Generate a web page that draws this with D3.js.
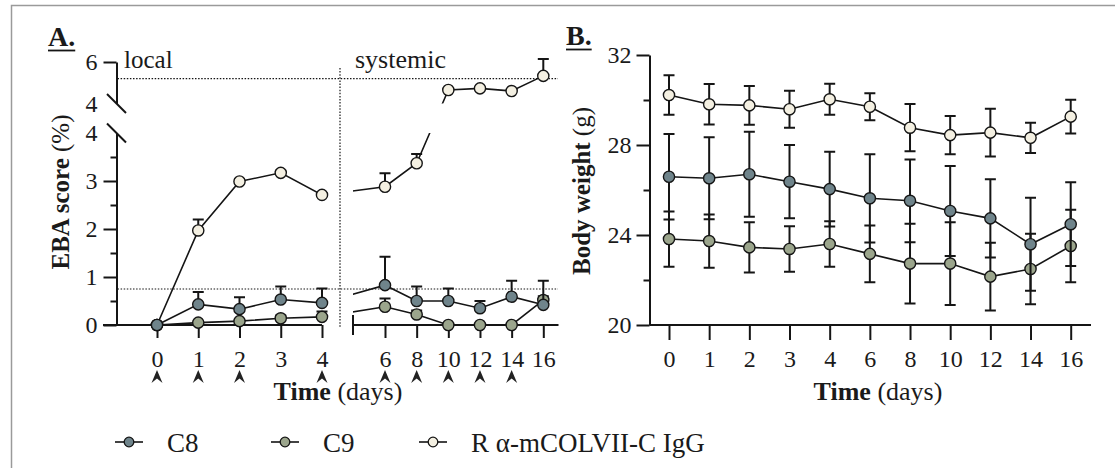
<!DOCTYPE html>
<html>
<head>
<meta charset="utf-8">
<script src="https://cdn.jsdelivr.net/npm/d3@7"></script>
<style>
body { margin: 0; background: #fff; }
svg text { font-family: "Liberation Serif", "Times New Roman", serif; fill: #1a1a1a; }
</style>
</head>
<body>
<div id="chart"></div>
<script>
// series
var seriesNames = ["C8", "C9", "R α-mCOLVII-C IgG"];
var seriesFill = ["#6f848b", "#9ba58c", "#f4f0e2"];

// Panel A: EBA score (%), mean + upper error bar
var ebaDays = [0, 1, 2, 3, 4, 6, 8, 10, 12, 14, 16];
var localDays = [0, 1, 2, 3, 4];
var systemicDays = [6, 8, 10, 12, 14, 16];
var injectionDays = [0, 1, 2, 4, 6, 8, 10, 12, 14];
var ebaC8 = [0, 0.43, 0.33, 0.53, 0.46, 0.83, 0.50, 0.50, 0.35, 0.59, 0.42];
var ebaC8Err = [0, 0.26, 0.25, 0.27, 0.30, 0.59, 0.30, 0.26, 0.15, 0.33, 0.50];
var ebaC9 = [0, 0.05, 0.08, 0.14, 0.17, 0.38, 0.22, 0, 0, 0, 0.52];
var ebaC9Err = [0, 0.03, 0.04, 0.06, 0.11, 0.17, 0.08, 0, 0, 0, 0.08];
var ebaR = [0, 1.97, 2.99, 3.17, 2.71, 2.88, 3.37, 4.65, 4.73, 4.60, 5.33];
var ebaRErr = [0, 0.23, 0.05, 0.05, 0.04, 0.28, 0.19, 0.05, 0.05, 0.05, 0.82];
var ebaThresholds = [0.75, 5.2];

// Panel B: body weight (g), mean +/- SD
var weightDays = ["0", "1", "2", "3", "4", "6", "8", "10", "12", "14", "16"];
var weightC8 = [26.59, 26.52, 26.70, 26.37, 26.04, 25.63, 25.52, 25.07, 24.74, 23.59, 24.48];
var weightC8Sd = [1.90, 1.82, 1.89, 1.63, 1.66, 1.96, 1.84, 2.00, 1.74, 2.07, 1.86];
var weightC9 = [23.82, 23.73, 23.45, 23.38, 23.60, 23.16, 22.73, 22.73, 22.15, 22.49, 23.51];
var weightC9Sd = [1.23, 1.18, 1.12, 1.01, 1.01, 1.26, 1.77, 1.84, 1.51, 1.57, 1.61];
var weightR = [30.22, 29.81, 29.76, 29.59, 30.03, 29.70, 28.77, 28.44, 28.55, 28.32, 29.26];
var weightRSd = [0.88, 0.90, 0.86, 0.82, 0.69, 0.60, 1.05, 0.85, 1.06, 0.67, 0.75];

var ink = "#151515";
var serif = "'Liberation Serif', 'Times New Roman', serif";

var svg = d3.select("#chart").append("svg")
	.attr("width", 1115)
	.attr("height", 468)
	.style("font-family", serif);

// frame (top and left edges only)
svg.append("path")
	.attr("d", "M11.5,468V5.5H1115")
	.attr("fill", "none")
	.attr("stroke", "#9a9a9a")
	.attr("stroke-width", 1.5);

function styleAxis(g, fontSize) {
	g.attr("font-family", serif);
	g.selectAll("line").attr("stroke", ink).attr("stroke-width", 2);
	g.selectAll("path.domain").attr("stroke", ink).attr("stroke-width", 2);
	g.selectAll("text")
		.style("font-family", serif)
		.style("font-size", fontSize + "px")
		.attr("fill", ink);
}

function panelLabel(txt, x, y) {
	var t = svg.append("text")
		.attr("x", x).attr("y", y)
		.style("font-size", "28px")
		.style("font-weight", "bold")
		.text(txt);
	var w = t.node().getComputedTextLength();
	svg.append("line")
		.attr("x1", x).attr("x2", x + w)
		.attr("y1", y + 4.5).attr("y2", y + 4.5)
		.attr("stroke", ink).attr("stroke-width", 1.8);
}

/********* PANEL A: EBA score ************/
var xLocal = d3.scaleLinear().domain([0, 4]).range([157, 322]);
var xSys = d3.scaleLinear().domain([6, 16]).range([385, 543.3]);
var yLo = d3.scaleLinear().domain([0, 4]).range([325, 133]);
var yHi = d3.scaleLinear().domain([4, 6]).range([103.5, 62]);
var axA = 116.5;

function xA(d) { return d <= 4 ? xLocal(d) : xSys(d); }
function yA(v) { return v <= 4 ? yLo(v) : yHi(v); }

panelLabel("A.", 48, 46);

// dotted reference lines
var gA = svg.append("g");
gA.append("line")
	.attr("x1", 340).attr("x2", 340).attr("y1", 68).attr("y2", 328)
	.attr("stroke", ink).attr("stroke-width", 1.2).attr("stroke-dasharray", "1.5,1.6");
ebaThresholds.forEach(function(v) {
	gA.append("line")
		.attr("x1", axA + 1).attr("x2", 558).attr("y1", yA(v)).attr("y2", yA(v))
		.attr("stroke", ink).attr("stroke-width", 1.2).attr("stroke-dasharray", "1.5,1.6");
});

gA.append("text").attr("x", 124).attr("y", 68).style("font-size", "25px").text("local");
gA.append("text").attr("x", 355).attr("y", 68).style("font-size", "26px").text("systemic");

// y axis, lower part 0-4
var yAxLo = gA.append("g").attr("transform", "translate(" + axA + ",0)")
	.call(d3.axisLeft(yLo).tickValues([0, 1, 2, 3, 4]).tickSize(13).tickSizeOuter(0).tickPadding(6).tickFormat(d3.format("d")));
yAxLo.selectAll(".tick").filter(function(d) { return d === 4; }).select("line").remove();
styleAxis(yAxLo, 24);
var yAxLoMinor = gA.append("g").attr("transform", "translate(" + axA + ",0)")
	.call(d3.axisLeft(yLo).tickValues([0.5, 1.5, 2.5, 3.5]).tickSize(6).tickFormat(""));
yAxLoMinor.select(".domain").remove();
styleAxis(yAxLoMinor, 24);

// y axis, upper part 4-6
var yAxHi = gA.append("g").attr("transform", "translate(" + axA + ",0)")
	.call(d3.axisLeft(yHi).tickValues([4, 6]).tickSize(13).tickSizeOuter(0).tickPadding(6).tickFormat(d3.format("d")));
yAxHi.selectAll(".tick").filter(function(d) { return d === 4; }).select("line").remove();
styleAxis(yAxHi, 24);

// break marks
[yHi(4), yLo(4)].forEach(function(y) {
	gA.append("line")
		.attr("x1", axA - 9.5).attr("y1", y - 9.5)
		.attr("x2", axA + 9.5).attr("y2", y + 9.5)
		.attr("stroke", ink).attr("stroke-width", 2);
});

// x axes (local / systemic)
var xAxLocal = gA.append("g").attr("transform", "translate(0,325)")
	.call(d3.axisBottom(xLocal).tickValues(localDays).tickSize(13).tickSizeOuter(0).tickFormat(d3.format("d")));
xAxLocal.select(".domain").remove();
styleAxis(xAxLocal, 24);
xAxLocal.selectAll("text").attr("y", 42).attr("dy", 0);
gA.append("line").attr("x1", 103).attr("x2", xLocal(4)).attr("y1", 325).attr("y2", 325)
	.attr("stroke", ink).attr("stroke-width", 2);

var xAxSys = gA.append("g").attr("transform", "translate(0,325)")
	.call(d3.axisBottom(xSys).tickValues(systemicDays).tickSize(13).tickSizeOuter(0).tickFormat(d3.format("d")));
xAxSys.select(".domain").remove();
styleAxis(xAxSys, 24);
xAxSys.selectAll("text").attr("y", 42).attr("dy", 0);
gA.append("path")
	.attr("d", "M353,315V335M353,325H558.5")
	.attr("fill", "none").attr("stroke", ink).attr("stroke-width", 2);

// injection arrowheads
gA.selectAll("path.inj")
	.data(injectionDays)
	.enter()
	.append("path")
	.attr("class", "inj")
	.attr("d", function(d) {
		var x = xA(d);
		return "M" + x + ",370L" + (x + 5.5) + ",383L" + x + ",378.5L" + (x - 5.5) + ",383Z";
	})
	.attr("fill", "#222");

// axis titles
var tA = gA.append("text")
	.attr("transform", "translate(69,192) rotate(-90)")
	.attr("text-anchor", "middle")
	.style("font-size", "25px");
tA.append("tspan").style("font-weight", "bold").text("EBA score");
tA.append("tspan").text(" (%)");

var tAx = gA.append("text")
	.attr("x", 338).attr("y", 400)
	.attr("text-anchor", "middle")
	.style("font-size", "26px");
tAx.append("tspan").style("font-weight", "bold").text("Time");
tAx.append("tspan").text(" (days)");

// clip for lines: hide the gaps of both broken axes
var defs = svg.append("defs");
var clipA = defs.append("clipPath").attr("id", "clipA");
[[100, 322], [353, 570]].forEach(function(xr) {
	[[20, yHi(4)], [yLo(4), 340]].forEach(function(yr) {
		clipA.append("rect")
			.attr("x", xr[0]).attr("y", yr[0])
			.attr("width", xr[1] - xr[0]).attr("height", yr[1] - yr[0]);
	});
});

var ebaSeries = [
	{ v: ebaR, e: ebaRErr, fill: seriesFill[2] },
	{ v: ebaC9, e: ebaC9Err, fill: seriesFill[1] },
	{ v: ebaC8, e: ebaC8Err, fill: seriesFill[0] }
];

var lineA = d3.line()
	.x(function(d) { return xA(d.day); })
	.y(function(d) { return yA(d.v); });

ebaSeries.forEach(function(s) {
	var pts = ebaDays.map(function(day, i) { return { day: day, v: s.v[i], e: s.e[i] }; });
	var g = gA.append("g");
	g.append("path")
		.datum(pts)
		.attr("d", lineA)
		.attr("clip-path", "url(#clipA)")
		.attr("fill", "none")
		.attr("stroke", ink)
		.attr("stroke-width", 1.6);
	pts.filter(function(d) { return d.e > 0; }).forEach(function(d) {
		var x = xA(d.day), y0 = yA(d.v), y1 = yA(d.v + d.e);
		g.append("path")
			.attr("d", "M" + x + "," + y0 + "V" + y1 + "M" + (x - 5.5) + "," + y1 + "H" + (x + 5.5))
			.attr("fill", "none").attr("stroke", ink).attr("stroke-width", 2);
	});
	g.selectAll("circle")
		.data(pts)
		.enter()
		.append("circle")
		.attr("cx", function(d) { return xA(d.day); })
		.attr("cy", function(d) { return yA(d.v); })
		.attr("r", 5.6)
		.attr("fill", s.fill)
		.attr("stroke", ink)
		.attr("stroke-width", 1.4);
});

/********* PANEL B: Body weight ************/
var xB = d3.scalePoint().domain(weightDays).range([669, 1070.7]);
var yB = d3.scaleLinear().domain([20, 32]).range([325, 55]);
var axB = 649.5;

panelLabel("B.", 566, 45);

var gB = svg.append("g");
var yAxB = gB.append("g").attr("transform", "translate(" + axB + ",0)")
	.call(d3.axisLeft(yB).tickValues([20, 24, 28, 32]).tickSize(13).tickSizeOuter(0).tickPadding(5));
styleAxis(yAxB, 24);
var yAxBMinor = gB.append("g").attr("transform", "translate(" + axB + ",0)")
	.call(d3.axisLeft(yB).tickValues([22, 26, 30]).tickSize(6).tickFormat(""));
yAxBMinor.select(".domain").remove();
styleAxis(yAxBMinor, 24);

var xAxB = gB.append("g").attr("transform", "translate(0,325)")
	.call(d3.axisBottom(xB).tickSize(15).tickSizeOuter(0));
xAxB.select(".domain").remove();
styleAxis(xAxB, 24);
xAxB.selectAll("text").attr("y", 42).attr("dy", 0);
gB.append("line").attr("x1", axB).attr("x2", 1091).attr("y1", 325).attr("y2", 325)
	.attr("stroke", ink).attr("stroke-width", 2);

var tB = gB.append("text")
	.attr("transform", "translate(590,191) rotate(-90)")
	.attr("text-anchor", "middle")
	.style("font-size", "25px");
tB.append("tspan").style("font-weight", "bold").text("Body weight");
tB.append("tspan").text(" (g)");

var tBx = gB.append("text")
	.attr("x", 878).attr("y", 400)
	.attr("text-anchor", "middle")
	.style("font-size", "26px");
tBx.append("tspan").style("font-weight", "bold").text("Time");
tBx.append("tspan").text(" (days)");

var weightSeries = [
	{ v: weightR, e: weightRSd, fill: seriesFill[2] },
	{ v: weightC9, e: weightC9Sd, fill: seriesFill[1] },
	{ v: weightC8, e: weightC8Sd, fill: seriesFill[0] }
];

var lineB = d3.line()
	.x(function(d) { return xB(d.day); })
	.y(function(d) { return yB(d.v); });

weightSeries.forEach(function(s) {
	var pts = weightDays.map(function(day, i) { return { day: day, v: s.v[i], e: s.e[i] }; });
	var g = gB.append("g");
	pts.forEach(function(d) {
		var x = xB(d.day), y1 = yB(d.v + d.e), y2 = yB(d.v - d.e);
		g.append("path")
			.attr("d", "M" + x + "," + y1 + "V" + y2 +
				"M" + (x - 5.5) + "," + y1 + "H" + (x + 5.5) +
				"M" + (x - 5.5) + "," + y2 + "H" + (x + 5.5))
			.attr("fill", "none").attr("stroke", ink).attr("stroke-width", 2);
	});
	g.append("path")
		.datum(pts)
		.attr("d", lineB)
		.attr("fill", "none")
		.attr("stroke", ink)
		.attr("stroke-width", 1.6);
	g.selectAll("circle")
		.data(pts)
		.enter()
		.append("circle")
		.attr("cx", function(d) { return xB(d.day); })
		.attr("cy", function(d) { return yB(d.v); })
		.attr("r", 5.6)
		.attr("fill", s.fill)
		.attr("stroke", ink)
		.attr("stroke-width", 1.4);
});

/********* LEGEND ************/
var legendX = [129, 285, 433];
var legend = svg.append("g").attr("transform", "translate(0,442)");
var item = legend.selectAll("g")
	.data(seriesNames)
	.enter()
	.append("g")
	.attr("transform", function(d, i) { return "translate(" + legendX[i] + ",0)"; });
item.append("line")
	.attr("x1", -14).attr("x2", 14)
	.attr("stroke", ink).attr("stroke-width", 1.6);
item.append("circle")
	.attr("r", 4.8)
	.attr("fill", function(d, i) { return seriesFill[i]; })
	.attr("stroke", ink)
	.attr("stroke-width", 1.3);
item.append("text")
	.attr("x", 38)
	.attr("y", 10)
	.style("font-size", "27px")
	.text(function(d) { return d; });
</script>
</body>
</html>
